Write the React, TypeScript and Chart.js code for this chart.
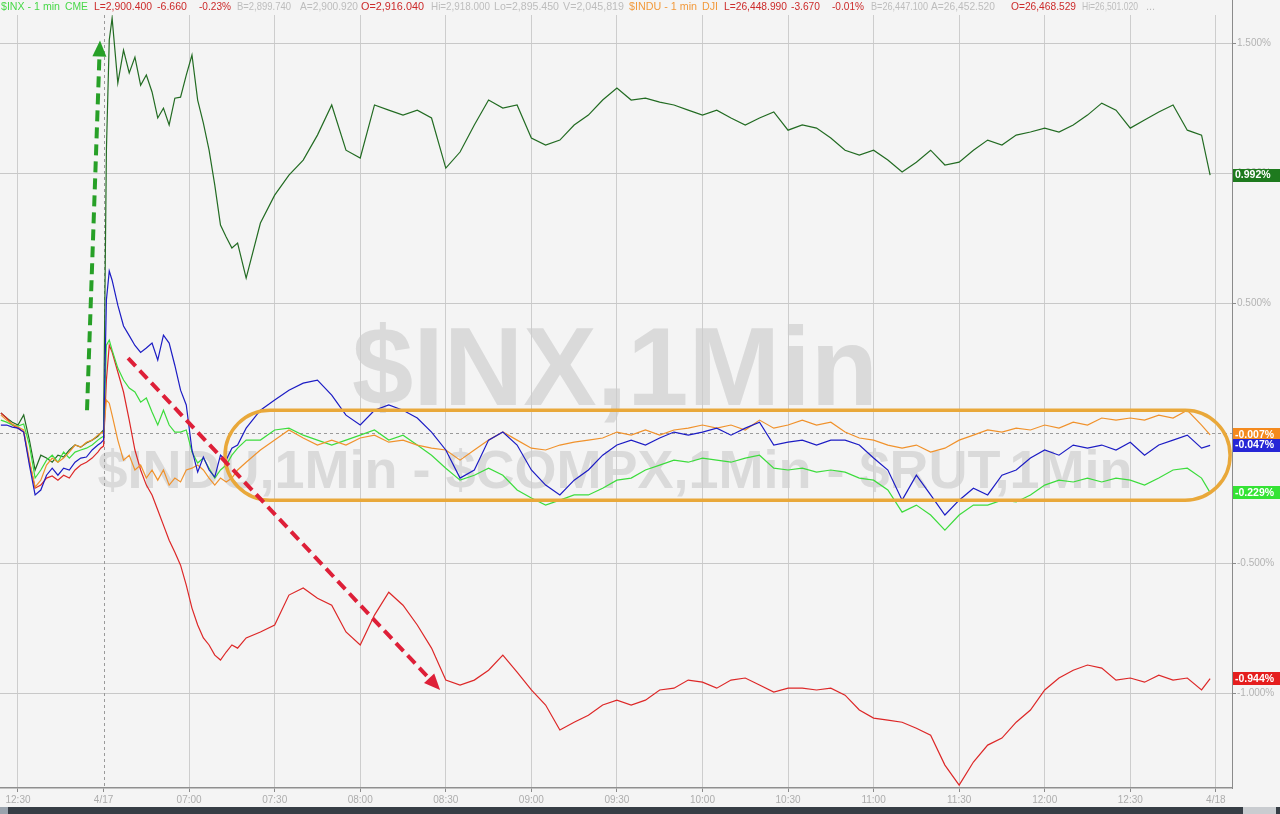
import React, { useEffect, useRef } from "react";
import { Chart, registerables } from "chart.js";

Chart.register(...registerables);

// ---------- DATA ----------
// minutes since 12:30 of the previous session (0 = 12:30, 30 = 4/17 open, 420 = 4/18)
const MINUTES = [
  -6, -4, -2, 0, 2, 4, 6, 8, 10, 12, 14, 16, 18, 20, 22, 24, 26, 28, 29,
  30, 31, 32, 33,
  35, 37, 39, 41, 43, 45, 47, 49, 51, 53, 55, 57, 59, 61, 63, 65, 67, 69, 71, 73, 75, 77,
  80,
  85, 90, 95, 100, 105, 110, 115, 120, 125, 130,
  135, 140, 145, 150, 155, 160, 165, 170, 175, 180,
  185, 190, 195, 200, 205, 210, 215, 220, 225, 230,
  235, 240, 245, 250, 255, 260, 265, 270, 275, 280,
  285, 290, 295, 300, 305, 310, 315, 320, 325, 330,
  335, 340, 345, 350, 355, 360, 365, 370, 375, 380,
  385, 390, 395, 400, 405, 410, 415,
  418,
];

const DARK_GREEN = [
  0.077, 0.058, 0.042, 0.031, 0.07, -0.027, -0.142, -0.085, -0.096, -0.112, -0.085, -0.092, -0.065, -0.046, -0.054, -0.038, -0.027, -0.012, 0.0,
  0.012, 1.088, 1.512, 1.596,
  1.346, 1.473, 1.385, 1.446, 1.338, 1.377, 1.312, 1.212, 1.25, 1.185, 1.288, 1.292, 1.377, 1.454, 1.281, 1.192, 1.088, 0.954, 0.8, 0.754, 0.712, 0.731,
  0.596,
  0.808, 0.915, 0.992, 1.05, 1.146, 1.262, 1.088, 1.058, 1.262, 1.242,
  1.223, 1.242, 1.212, 1.019, 1.081, 1.185, 1.281, 1.25, 1.262, 1.135,
  1.108, 1.127, 1.185, 1.223, 1.281, 1.327, 1.281, 1.288, 1.273, 1.262,
  1.242, 1.223, 1.242, 1.212, 1.185, 1.212, 1.235, 1.165, 1.185, 1.173,
  1.135, 1.088, 1.069, 1.088, 1.05, 1.004, 1.042, 1.088, 1.031, 1.042,
  1.088, 1.127, 1.108, 1.146, 1.158, 1.173, 1.158, 1.185, 1.223, 1.269,
  1.242, 1.173, 1.204, 1.235, 1.262, 1.165, 1.146,
  0.992,
];

const COMPX = [
  0.031, 0.031, 0.023, 0.019, 0.004, -0.123, -0.238, -0.219, -0.162, -0.135, -0.162, -0.135, -0.142, -0.112, -0.096, -0.092, -0.065, -0.046, -0.038,
  -0.027, 0.512, 0.623, 0.588,
  0.492, 0.412, 0.375, 0.337, 0.31, 0.327, 0.346, 0.281, 0.377, 0.346, 0.26, 0.165, 0.108, -0.065, -0.15, -0.092, -0.142, -0.169, -0.085, -0.104, -0.058, -0.046,
  0.019,
  0.088, 0.127, 0.165, 0.192, 0.204, 0.146, 0.069, 0.031, 0.088, 0.108,
  0.088, 0.058, 0.004, -0.065, -0.173, -0.142, -0.027, 0.004, -0.046, -0.142,
  -0.2, -0.238, -0.181, -0.142, -0.085, -0.046, -0.027, -0.046, -0.019, 0.004,
  -0.008, 0.004, 0.019, -0.008, 0.019, 0.042, -0.046, -0.035, -0.027, -0.046,
  -0.027, -0.027, -0.046, -0.096, -0.142, -0.258, -0.162, -0.238, -0.315, -0.258,
  -0.212, -0.238, -0.162, -0.142, -0.096, -0.065, -0.085, -0.046, -0.058, -0.046,
  -0.065, -0.035, -0.085, -0.046, -0.027, -0.008, -0.058,
  -0.047,
];

const INX = [
  0.05, 0.042, 0.031, 0.027, 0.035, -0.046, -0.173, -0.142, -0.104, -0.085, -0.112, -0.073, -0.096, -0.073, -0.065, -0.058, -0.046, -0.027, -0.019,
  -0.012, 0.338, 0.358, 0.319,
  0.25, 0.204, 0.173, 0.158, 0.119, 0.135, 0.081, 0.031, 0.088, 0.031, 0.004, 0.004, 0.012, -0.073, -0.115, -0.096, -0.135, -0.173, -0.142, -0.123, -0.085, -0.058,
  -0.027,
  -0.027, 0.012, 0.019, -0.008, -0.027, -0.046, -0.027, -0.008, 0.012, -0.027,
  -0.008, -0.046, -0.085, -0.135, -0.181, -0.162, -0.135, -0.162, -0.219, -0.25,
  -0.277, -0.258, -0.238, -0.238, -0.212, -0.181, -0.173, -0.142, -0.123, -0.104,
  -0.112, -0.096, -0.104, -0.112, -0.096, -0.085, -0.135, -0.142, -0.135, -0.15,
  -0.142, -0.15, -0.173, -0.181, -0.219, -0.304, -0.277, -0.315, -0.373, -0.315,
  -0.277, -0.277, -0.258, -0.265, -0.238, -0.2, -0.181, -0.188, -0.173, -0.188,
  -0.173, -0.181, -0.2, -0.173, -0.142, -0.135, -0.173,
  -0.229,
];

const INDU = [
  0.069, 0.05, 0.035, 0.023, 0.012, -0.104, -0.208, -0.181, -0.123, -0.096, -0.112, -0.096, -0.073, -0.046, -0.054, -0.035, -0.027, -0.008, 0.0,
  0.004, 0.127, 0.115, 0.069,
  -0.027, -0.104, -0.085, -0.142, -0.123, -0.173, -0.142, -0.181, -0.142, -0.2, -0.173, -0.188, -0.142, -0.135, -0.123, -0.142, -0.173, -0.2, -0.173, -0.188, -0.173, -0.142,
  -0.112,
  -0.065, -0.027, 0.012, -0.019, -0.046, -0.027, -0.046, -0.019, -0.008, -0.035,
  -0.027, -0.046, -0.058, -0.065, -0.104, -0.065, -0.027, 0.004, -0.027, -0.058,
  -0.065, -0.046, -0.035, -0.027, -0.019, 0.004, -0.008, 0.012, -0.008, 0.012,
  0.019, 0.031, 0.019, 0.031, 0.012, 0.05, 0.019, 0.031, 0.05, 0.031,
  0.042, 0.004, -0.019, -0.027, -0.046, -0.058, -0.046, -0.073, -0.058, -0.027,
  -0.008, 0.012, 0.004, 0.019, 0.012, 0.031, 0.019, 0.042, 0.031, 0.058,
  0.05, 0.058, 0.05, 0.069, 0.058, 0.088, 0.031,
  -0.007,
];

const RUT = [
  0.077, 0.058, 0.031, 0.019, 0.004, -0.112, -0.212, -0.2, -0.173, -0.165, -0.181, -0.162, -0.173, -0.142, -0.123, -0.112, -0.096, -0.073, -0.058,
  -0.05, 0.204, 0.338, 0.312,
  0.235, 0.158, 0.05, -0.065, -0.142, -0.2, -0.238, -0.296, -0.354, -0.412, -0.458, -0.508, -0.585, -0.673, -0.738, -0.788, -0.815, -0.854, -0.873, -0.842, -0.815, -0.827,
  -0.788,
  -0.765, -0.738, -0.623, -0.596, -0.635, -0.662, -0.765, -0.815, -0.7, -0.612,
  -0.662, -0.738, -0.827, -0.95, -0.969, -0.95, -0.912, -0.854, -0.919, -0.988,
  -1.046, -1.142, -1.112, -1.085, -1.046, -1.027, -1.046, -1.027, -0.988, -0.981,
  -0.95, -0.958, -0.981, -0.95, -0.942, -0.969, -0.996, -0.981, -0.981, -0.988,
  -0.981, -1.008, -1.065, -1.096, -1.104, -1.112, -1.135, -1.162, -1.277, -1.354,
  -1.265, -1.2, -1.173, -1.112, -1.065, -0.988, -0.942, -0.912, -0.892, -0.904,
  -0.95, -0.942, -0.958, -0.931, -0.95, -0.942, -0.988,
  -0.944,
];

const TICK_MINUTES = [0, 30, 60, 90, 120, 150, 180, 210, 240, 270, 300, 330, 360, 390, 420];
const TICK_LABELS = ["12:30", "4/17", "07:00", "07:30", "08:00", "08:30", "09:00", "09:30", "10:00", "10:30", "11:00", "11:30", "12:00", "12:30", "4/18"];
const Y_TICKS = [-1, -0.5, 0, 0.5, 1, 1.5];
const SESSION_START = 30;

const HEADER = [
  { t: "$INX - 1 min", c: "#48d848" },
  { t: "CME", c: "#48d848" },
  { t: "L=2,900.400", c: "#cc2a2a" },
  { t: "-6.660", c: "#cc2a2a" },
  { t: "-0.23%", c: "#cc2a2a" },
  { t: "B=2,899.740", c: "#bdbdbd" },
  { t: "A=2,900.920", c: "#bdbdbd" },
  { t: "O=2,916.040", c: "#cc2a2a" },
  { t: "Hi=2,918.000", c: "#bdbdbd" },
  { t: "Lo=2,895.450", c: "#bdbdbd" },
  { t: "V=2,045,819", c: "#bdbdbd" },
  { t: "$INDU - 1 min", c: "#f29a3c" },
  { t: "DJI", c: "#f29a3c" },
  { t: "L=26,448.990", c: "#cc2a2a" },
  { t: "-3.670", c: "#cc2a2a" },
  { t: "-0.01%", c: "#cc2a2a" },
  { t: "B=26,447.100", c: "#bdbdbd" },
  { t: "A=26,452.520", c: "#bdbdbd" },
  { t: "O=26,468.529", c: "#cc2a2a" },
  { t: "Hi=26,501.020", c: "#bdbdbd" },
  { t: "...", c: "#bdbdbd" },
];
// layout of the header items (x, width in px)
const HEADER_LAYOUT = [
  [1, 59], [65, 23], [94, 58], [157, 30], [199, 32], [237, 54], [300, 58], [361, 63], [431, 59], [494, 65], [563, 61],
  [629, 68], [702, 16], [724, 63], [791, 29], [832, 32], [871, 57], [931, 64], [1011, 65], [1082, 56], [1146, 10],
];

const WATERMARK_MAIN = "$INX,1Min";
const WATERMARK_SUB = "$INDU,1Min - $COMPX,1Min - $RUT,1Min";

// annotations in data units (minute, percent)
const GREEN_ARROW = { from: [24.2, 0.088], to: [28.75, 1.51] };
const RED_ARROW = { from: [38.6, 0.288], to: [148, -0.988] };
const RANGE_BOX = { x0: 72.6, x1: 425, y0: 0.088, y1: -0.258 };

const SERIES = [
  { label: "$COMPX", values: COMPX, line: "#1c1cc4", box: "#2626d6" },
  { label: "$INDU", values: INDU, line: "#f0922c", box: "#f48a1e" },
  { label: "$INX", values: INX, line: "#3ddc3d", box: "#34e334" },
  { label: "$RUT", values: RUT, line: "#dd2727", box: "#e51d1d" },
  { label: "Spread", values: DARK_GREEN, line: "#226b22", box: "#1e7a1e" },
];

const BG = "#f4f4f4";
const FONT = '"Liberation Sans", Arial, sans-serif';

function drawArrow(ctx: CanvasRenderingContext2D, x0: number, y0: number, x1: number, y1: number, color: string) {
  const ang = Math.atan2(y1 - y0, x1 - x0);
  const headLen = 16;
  const headW = 7;
  const bx = x1 - headLen * Math.cos(ang);
  const by = y1 - headLen * Math.sin(ang);
  ctx.save();
  ctx.strokeStyle = color;
  ctx.lineWidth = 4;
  ctx.setLineDash([11, 6]);
  ctx.beginPath();
  ctx.moveTo(x0, y0);
  ctx.lineTo(bx, by);
  ctx.stroke();
  ctx.setLineDash([]);
  ctx.fillStyle = color;
  ctx.beginPath();
  ctx.moveTo(x1, y1);
  ctx.lineTo(bx + headW * Math.sin(ang), by - headW * Math.cos(ang));
  ctx.lineTo(bx - headW * Math.sin(ang), by + headW * Math.cos(ang));
  ctx.closePath();
  ctx.fill();
  ctx.restore();
}

const decorPlugin = {
  id: "decor",
  beforeDraw(chart: any) {
    const { ctx, width, height, chartArea } = chart;
    ctx.save();
    ctx.fillStyle = BG;
    ctx.fillRect(0, 0, width, height);
    const cx = (chartArea.left + chartArea.right) / 2;
    ctx.fillStyle = "#dadada";
    ctx.textAlign = "center";
    ctx.textBaseline = "alphabetic";
    ctx.font = `bold 112px ${FONT}`;
    ctx.fillText(WATERMARK_MAIN, cx - 1, 405, 526);
    ctx.font = `bold 54px ${FONT}`;
    ctx.fillText(WATERMARK_SUB, cx - 1, 488, 1040);
    ctx.restore();
  },
  beforeDatasetsDraw(chart: any) {
    const { ctx, chartArea, scales } = chart;
    ctx.save();
    ctx.strokeStyle = "#9a9a9a";
    ctx.lineWidth = 1;
    ctx.setLineDash([3, 3]);
    const y0 = Math.round(scales.y.getPixelForValue(0)) + 0.5;
    ctx.beginPath();
    ctx.moveTo(chartArea.left, y0);
    ctx.lineTo(chartArea.right, y0);
    ctx.stroke();
    const xs = Math.round(scales.x.getPixelForValue(SESSION_START)) + 0.5;
    ctx.beginPath();
    ctx.moveTo(xs, chartArea.top);
    ctx.lineTo(xs, chartArea.bottom);
    ctx.stroke();
    ctx.restore();
  },
  afterDatasetsDraw(chart: any) {
    const { ctx, scales } = chart;
    const X = (v: number) => scales.x.getPixelForValue(v);
    const Y = (v: number) => scales.y.getPixelForValue(v);
    // range box
    const bx0 = X(RANGE_BOX.x0), bx1 = X(RANGE_BOX.x1);
    const by0 = Y(RANGE_BOX.y0), by1 = Y(RANGE_BOX.y1);
    const r = (by1 - by0) / 2;
    ctx.save();
    ctx.strokeStyle = "#e9a83a";
    ctx.lineWidth = 3.5;
    ctx.beginPath();
    ctx.moveTo(bx0 + r, by0);
    ctx.lineTo(bx1 - r, by0);
    ctx.arc(bx1 - r, by0 + r, r, -Math.PI / 2, Math.PI / 2);
    ctx.lineTo(bx0 + r, by1);
    ctx.arc(bx0 + r, by0 + r, r, Math.PI / 2, (3 * Math.PI) / 2);
    ctx.closePath();
    ctx.stroke();
    ctx.restore();
    drawArrow(ctx, X(GREEN_ARROW.from[0]), Y(GREEN_ARROW.from[1]), X(GREEN_ARROW.to[0]), Y(GREEN_ARROW.to[1]), "#27a027");
    drawArrow(ctx, X(RED_ARROW.from[0]), Y(RED_ARROW.from[1]), X(RED_ARROW.to[0]), Y(RED_ARROW.to[1]), "#de1f38");
  },
  afterDraw(chart: any) {
    const { ctx, chartArea, scales, width, height } = chart;
    ctx.save();
    // right axis line continues to top
    ctx.strokeStyle = "#8a8a8a";
    ctx.lineWidth = 1;
    ctx.beginPath();
    ctx.moveTo(chartArea.right + 0.5, 0);
    ctx.lineTo(chartArea.right + 0.5, chartArea.top);
    ctx.stroke();
    // last value boxes
    const order = [4, 2, 3, 1, 0];
    order.forEach((i) => {
      const s = SERIES[i];
      const v = s.values[s.values.length - 1];
      const y = scales.y.getPixelForValue(v);
      ctx.fillStyle = s.box;
      ctx.fillRect(chartArea.right + 1, Math.round(y - 6.5), width - chartArea.right - 1, 13);
      ctx.fillStyle = "#ffffff";
      ctx.font = `bold 10.5px ${FONT}`;
      ctx.textAlign = "left";
      ctx.textBaseline = "middle";
      ctx.fillText(v.toFixed(3) + "%", chartArea.right + 3, Math.round(y) + 0.5);
    });
    // header
    ctx.font = `11px ${FONT}`;
    ctx.textAlign = "left";
    ctx.textBaseline = "alphabetic";
    HEADER.forEach((h, i) => {
      const [x, w] = HEADER_LAYOUT[i];
      ctx.fillStyle = h.c;
      ctx.fillText(h.t, x, 10, w);
    });
    // bottom bar
    ctx.fillStyle = "#363d45";
    ctx.fillRect(0, 807, width, height - 807);
    ctx.fillStyle = "#9aa3ad";
    ctx.fillRect(0, 807, 8, height - 807);
    ctx.fillStyle = "#c9ccd0";
    ctx.fillRect(1243, 807, 33, height - 807);
    ctx.restore();
  },
};

export default function App() {
  const ref = useRef<HTMLCanvasElement>(null);
  useEffect(() => {
    document.body.style.margin = "0";
    document.body.style.background = BG;
    const canvas = ref.current!;
    const datasets = SERIES.map((s) => ({
      label: s.label,
      data: MINUTES.map((m, i) => ({ x: m, y: s.values[i] })),
      borderColor: s.line,
      borderWidth: 1.2,
      pointRadius: 0,
      tension: 0,
      fill: false,
    }));
    const chart = new Chart(canvas, {
      type: "line",
      data: { datasets },
      plugins: [decorPlugin],
      options: {
        animation: false,
        responsive: false,
        devicePixelRatio: 1,
        layout: { padding: { top: 15, left: 0, right: 0, bottom: 0 } },
        plugins: { legend: { display: false }, tooltip: { enabled: false } },
        scales: {
          x: {
            type: "linear",
            min: -6.31,
            max: 425.67,
            afterBuildTicks: (s: any) => {
              s.ticks = TICK_MINUTES.map((v) => ({ value: v }));
            },
            afterFit: (s: any) => {
              s.height = 26;
            },
            ticks: {
              autoSkip: false,
              maxRotation: 0,
              padding: 2,
              color: "#adadad",
              font: { size: 10, family: FONT },
              callback: (v: any) => {
                const i = TICK_MINUTES.indexOf(Number(v));
                return i >= 0 ? TICK_LABELS[i] : "";
              },
            },
            grid: {
              color: (c: any) => (c.tick && c.tick.value === SESSION_START ? "rgba(0,0,0,0)" : "#cdcdcd"),
              tickColor: "#8a8a8a",
              tickLength: 4,
              lineWidth: 1,
            },
            border: { color: "#8f8f8f", width: 1.5 },
          },
          y: {
            type: "linear",
            position: "right",
            min: -1.365,
            max: 1.608,
            afterBuildTicks: (s: any) => {
              s.ticks = Y_TICKS.map((v) => ({ value: v }));
            },
            afterFit: (s: any) => {
              s.width = 48;
            },
            ticks: {
              padding: 1,
              color: "#b3b3b3",
              font: { size: 10, family: FONT },
              callback: (v: any) => Number(v).toFixed(3) + "%",
            },
            grid: {
              color: (c: any) => (c.tick && c.tick.value === 0 ? "rgba(0,0,0,0)" : "#c8c8c8"),
              tickColor: "#8a8a8a",
              tickLength: 4,
            },
            border: { color: "#8a8a8a", width: 1 },
          },
        },
      },
    } as any);
    return () => chart.destroy();
  }, []);
  return (
    <div style={{ position: "relative", width: 1280, height: 814, background: BG }}>
      <canvas ref={ref} width={1280} height={814} style={{ display: "block", width: 1280, height: 814 }} />
    </div>
  );
}
